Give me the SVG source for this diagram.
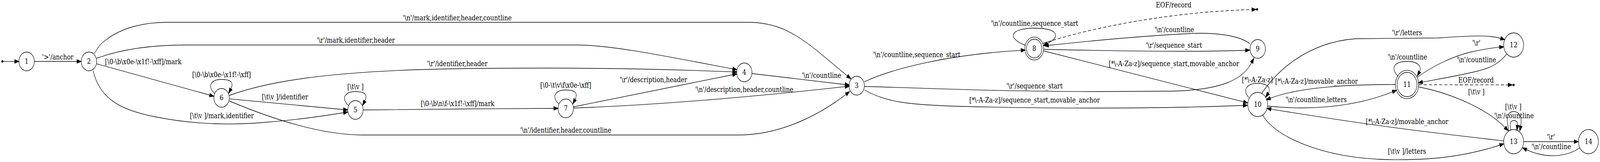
<svg xmlns="http://www.w3.org/2000/svg" width="4983" height="414" viewBox="0 0 4983 414" preserveAspectRatio="none">
<style>
svg{width:100vw;height:100vh}
.n{fill:none;stroke:#000;stroke-width:1.33}
.nt{font-family:"DejaVu Serif","Liberation Serif",serif;font-size:18.67px;text-anchor:middle;fill:#000}
.e{fill:none;stroke:#000;stroke-width:1.33;marker-end:url(#arr)}
.d{stroke-dasharray:10,6}
.lb{font-family:"DejaVu Serif","Liberation Serif",serif;font-size:18.67px;text-anchor:middle;fill:#000;white-space:pre}
.pt{fill:#000;stroke:#000}
</style>
<defs>
<marker id="arr" markerUnits="userSpaceOnUse" markerWidth="14" markerHeight="10" refX="0" refY="5" viewBox="0 0 14 10" orient="auto" overflow="visible">
<path d="M0,0.33 L13.33,5 L0,9.67 Z" fill="#000" stroke="#000" stroke-width="1.33"/>
</marker>
</defs>
<rect width="4983" height="414" fill="#fff"/>
<g id="connectors">
<path class="e" d="M9.5,157 L45.7,157"/>
<path class="e" d="M107,157 L239.7,157"/>
<text class="lb" x="180" y="152.5">'&gt;'/anchor</text>
<path class="e" d="M294,137 C305,120 315,110 330,102 C380,70 450,57 520,57 L2330,57 C2420,57 2480,85 2560,140 C2590,160 2615,178 2639,194"/>
<text class="lb" x="1424" y="52">'\n'/mark,identifier,header,countline</text>
<path class="e" d="M301,149 C380,125 480,115 580,115 L1795,115 C1900,115 2050,140 2282,176"/>
<text class="lb" x="1108" y="109">'\r'/mark,identifier,header</text>
<path class="e" d="M301,163 L653,243"/>
<text class="lb" x="446" y="164">[\0-\b\x0e-\x1f!-\xff]/mark</text>
<path class="e" d="M669,239 C645,222 655,203 690,203 C722,203 728,212 719,227"/>
<text class="lb" x="690" y="197">[\0-\b\x0e-\x1f!-\xff]</text>
<path class="e" d="M714,244 C820,212 1000,182 1400,176 C1700,172 2000,174 2282,183.7"/>
<text class="lb" x="1424" y="169">'\r'/identifier,header</text>
<path class="e" d="M715,252.7 L1069.7,280"/>
<text class="lb" x="887.5" y="254">[\t\v ]/identifier</text>
<path class="e" d="M714,258 C850,305 1000,345 1130,345 L2300,345 C2430,345 2550,295 2635,241"/>
<text class="lb" x="1762" y="339">'\n'/identifier,header,countline</text>
<path class="e" d="M290,181 C310,250 370,280 480,298 C600,318 720,320 820,313 C940,305 1010,296 1070,288"/>
<text class="lb" x="691" y="302">[\t\v ]/mark,identifier</text>
<path class="e" d="M1086,270 C1062,253 1072,234 1107,234 C1139,234 1145,243 1136,258"/>
<text class="lb" x="1107" y="228">[\t\v ]</text>
<path class="e" d="M1131,281 C1300,280 1550,277 1725,277"/>
<text class="lb" x="1425" y="271">[\0-\b\n\f-\x1f!-\xff]/mark</text>
<path class="e" d="M1741,266 C1717,249 1727,230 1762,230 C1794,230 1800,239 1791,254"/>
<text class="lb" x="1762" y="224">[\0-\t\v\f\x0e-\xff]</text>
<path class="e" d="M1786,273 L2282,191"/>
<text class="lb" x="2035" y="210">'\r'/description,header</text>
<path class="e" d="M1786,276 C2000,270 2300,252 2632,221.4"/>
<text class="lb" x="2318" y="235">'\n'/description,header,countline</text>
<path class="e" d="M2342,188 L2632,216"/>
<text class="lb" x="2558.5" y="199">'\n'/countline</text>
<path class="e" d="M2692,209 C2780,175 2950,140 3180,128.6"/>
<text class="lb" x="2855" y="146">'\n'/countline,sequence_start</text>
<path class="e" d="M2692,221 C2850,224 3100,234 3400,234 L3650,233 C3800,230 3870,205 3898,160"/>
<text class="lb" x="3222" y="226">'\r'/sequence_start</text>
<path class="e" d="M2692,230 C2760,260 2820,268 3000,272 C3300,278 3600,278 3872,269.5"/>
<text class="lb" x="3222" y="262">[*\-A-Za-z]/sequence_start,movable_anchor</text>
<path class="e" d="M3194,116 C3130,95 3150,72 3222,72 C3295,72 3305,94 3262,111"/>
<text class="lb" x="3222" y="66">'\n'/countline,sequence_start</text>
<path class="e d" d="M3248,111 C3400,70 3650,30 3899,24.5"/>
<text class="lb" x="3655" y="19.5">EOF/record</text>
<path class="e" d="M3893,112 C3860,90 3780,82 3700,86 C3560,92 3400,104 3265.3,116"/>
<text class="lb" x="3657" y="82">'\n'/countline</text>
<path class="e" d="M3250,126 C3450,130 3700,134 3879,128.5"/>
<text class="lb" x="3656" y="122">'\r'/sequence_start</text>
<path class="e" d="M3250,130 L3873,260.3"/>
<text class="lb" x="3656" y="169.5">[*\-A-Za-z]/sequence_start,movable_anchor</text>
<path class="e" d="M3889,249 C3870,232 3880,213 3917,213 C3952,213 3958,228 3950,238"/>
<text class="lb" x="3916" y="210">[*\-A-Za-z]</text>
<path class="e" d="M4346,216 C4200,216 4050,222 3956,251"/>
<text class="lb" x="4100" y="214">[*\-A-Za-z]/movable_anchor</text>
<path class="e" d="M3948,271 C4050,280 4200,280 4337,234.6"/>
<text class="lb" x="4099" y="261">'\n'/countline,letters</text>
<path class="e" d="M3930,238 C3970,190 4060,110 4220,99 L4480,97 C4600,90 4640,90 4673.6,98.2"/>
<text class="lb" x="4382" y="90">'\r'/letters</text>
<path class="e" d="M4355,196 C4330,175 4340,157 4382,157 C4420,157 4428,172 4421,183"/>
<text class="lb" x="4383" y="152">'\n'/countline</text>
<path class="e" d="M4413,198 C4460,170 4520,145 4580,133 C4620,126 4640,123 4670,120.7"/>
<text class="lb" x="4598" y="116">'\r'</text>
<path class="e" d="M4693,138 C4670,160 4650,172 4600,182 C4540,194 4480,202 4430,209.7"/>
<text class="lb" x="4598" y="159">'\n'/countline</text>
<path class="e d" d="M4418,216.5 L4697,217"/>
<text class="lb" x="4597" y="211">EOF/record</text>
<path class="e" d="M4418,222 C4500,235 4620,270 4687.4,325.8"/>
<text class="lb" x="4598" y="241">[\t\v ]</text>
<path class="e" d="M4700,334 C4688,300 4696,285 4714,285 C4733,285 4741,300 4736,322"/>
<text class="lb" x="4713" y="279">[\t\v ]</text>
<path class="e" d="M4706,333 C4700,315 4705,308 4714,308 C4723,308 4727,312 4726,320"/>
<text class="lb" x="4715" y="302">'\n'/countline</text>
<path class="e" d="M4745,362 L4902.7,362"/>
<text class="lb" x="4830" y="356">'\r'</text>
<path class="e" d="M4920,378 C4880,400 4830,402 4790,393 C4775,390 4765,387 4754,382.7"/>
<text class="lb" x="4831" y="381">'\n'/countline</text>
<path class="e" d="M4683,360 C4500,343 4300,325 3958.2,278.8"/>
<text class="lb" x="4382" y="317">[*\-A-Za-z]/movable_anchor</text>
<path class="e" d="M3933,294 C3960,340 4100,405 4330,408 C4480,410 4580,395 4671,371"/>
<text class="lb" x="4382" y="393">[\t\v ]/letters</text>
</g>
<g id="start"><circle class="pt" cx="7.3" cy="157" r="2.7"/></g>
<g id="endA"><circle class="pt" cx="3915" cy="24" r="2.7"/></g>
<g id="endB"><circle class="pt" cx="4714" cy="217" r="2.7"/></g>
<g id="node1"><circle class="n" cx="83" cy="157" r="24"/><text class="nt" x="83" y="163.5">1</text></g>
<g id="node2"><circle class="n" cx="277" cy="157" r="24"/><text class="nt" x="277" y="163.5">2</text></g>
<g id="node3"><circle class="n" cx="2668" cy="219" r="24"/><text class="nt" x="2668" y="225.5">3</text></g>
<g id="node4"><circle class="n" cx="2318" cy="185" r="24"/><text class="nt" x="2318" y="191.5">4</text></g>
<g id="node5"><circle class="n" cx="1107" cy="281" r="24"/><text class="nt" x="1107" y="287.5">5</text></g>
<g id="node6"><circle class="n" cx="690" cy="250" r="24"/><text class="nt" x="690" y="256.5">6</text></g>
<g id="node7"><circle class="n" cx="1762" cy="277" r="24"/><text class="nt" x="1762" y="283.5">7</text></g>
<g id="node8"><circle class="n" cx="3221" cy="124" r="24"/><circle class="n" cx="3221" cy="124" r="29.3"/><text class="nt" x="3221" y="130.5">8</text></g>
<g id="node9"><circle class="n" cx="3917" cy="125" r="24"/><text class="nt" x="3917" y="131.5">9</text></g>
<g id="node10"><circle class="n" cx="3917" cy="267" r="31"/><text class="nt" x="3917" y="273.5">10</text></g>
<g id="node11"><circle class="n" cx="4382" cy="216" r="31"/><circle class="n" cx="4382" cy="216" r="36.3"/><text class="nt" x="4382" y="222.5">11</text></g>
<g id="node12"><circle class="n" cx="4714" cy="115" r="31"/><text class="nt" x="4714" y="121.5">12</text></g>
<g id="node13"><circle class="n" cx="4714" cy="362" r="31"/><text class="nt" x="4714" y="368.5">13</text></g>
<g id="node14"><circle class="n" cx="4947" cy="362" r="31"/><text class="nt" x="4947" y="368.5">14</text></g>
</svg>
